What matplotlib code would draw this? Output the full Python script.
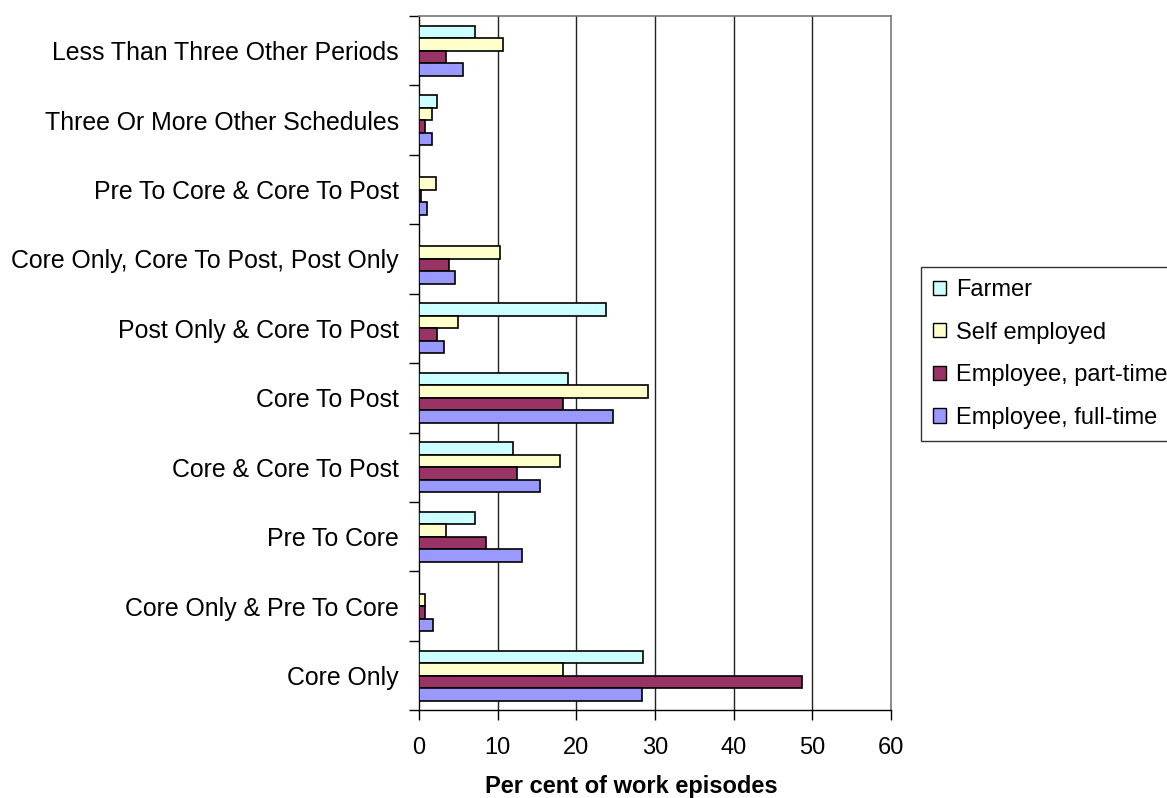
import matplotlib
matplotlib.use("Agg")
import matplotlib.pyplot as plt
import numpy as np

categories = [
    "Core Only",
    "Core Only & Pre To Core",
    "Pre To Core",
    "Core & Core To Post",
    "Core To Post",
    "Post Only & Core To Post",
    "Core Only, Core To Post, Post Only",
    "Pre To Core & Core To Post",
    "Three Or More Other Schedules",
    "Less Than Three Other Periods",
]

farmer = [28.5, 0.0, 7.1, 11.9, 19.0, 23.8, 0.0, 0.0, 2.3, 7.1]
self_employed = [18.3, 0.8, 3.5, 17.9, 29.1, 4.9, 10.3, 2.2, 1.7, 10.7]
employee_part = [48.7, 0.8, 8.5, 12.5, 18.3, 2.3, 3.8, 0.3, 0.8, 3.4]
employee_full = [28.4, 1.8, 13.1, 15.4, 24.7, 3.2, 4.6, 1.0, 1.6, 5.6]

series_names = ["Farmer", "Self employed", "Employee, part-time", "Employee, full-time"]
series_colors = ["#CCFFFF", "#FFFFCC", "#993366", "#9999FF"]

plt.rcParams["font.family"] = ["Liberation Sans", "DejaVu Sans"]
FS = 17

fig = plt.figure(figsize=(11.67, 7.98), dpi=100)
ax = fig.add_axes([0.359, 0.110, 0.4045, 0.870])

y = np.arange(len(categories))
h = 0.18
offsets = [1.5 * h, 0.5 * h, -0.5 * h, -1.5 * h]
all_series = [farmer, self_employed, employee_part, employee_full]

for vals, off, col, name in zip(all_series, offsets, series_colors, series_names):
    ax.barh(y + off, vals, height=h, color=col, edgecolor="black",
            linewidth=1.2, label=name, zorder=3)

ax.set_xlim(0, 60)
ax.set_ylim(-0.5, len(categories) - 0.5)
ax.set_xticks(np.arange(0, 61, 10))
ax.set_yticks(y)
ax.set_yticklabels(categories)
ax.set_yticks(np.arange(-0.5, len(categories), 1.0), minor=True)
ax.tick_params(axis="y", which="major", length=0, pad=14.5, labelsize=17.9)
ax.tick_params(axis="y", which="minor", length=7, width=1, direction="out")
ax.tick_params(axis="x", which="major", length=7, width=1, direction="out",
               pad=12, labelsize=FS)

for xv in range(10, 60, 10):
    ax.axvline(xv, color="#222222", linewidth=1, zorder=1)

for side in ["top", "right"]:
    ax.spines[side].set_color("#777777")
    ax.spines[side].set_linewidth(1.2)
for side in ["left", "bottom"]:
    ax.spines[side].set_color("black")
    ax.spines[side].set_linewidth(1)

ax.set_xlabel("Per cent of work episodes", fontsize=FS, fontweight="bold")
ax.xaxis.set_label_coords(0.45, -0.093)

leg = fig.legend(loc="upper left", bbox_to_anchor=(0.789, 0.665),
                 fontsize=FS, frameon=True, fancybox=False, shadow=False,
                 handlelength=0.55, handleheight=0.55, handletextpad=0.45,
                 labelspacing=0.87, borderpad=0.5, borderaxespad=0)
leg.get_frame().set_edgecolor("black")
leg.get_frame().set_linewidth(1)
for patch in leg.get_patches():
    patch.set_linewidth(1)

fig.savefig("out.png", dpi=100)
